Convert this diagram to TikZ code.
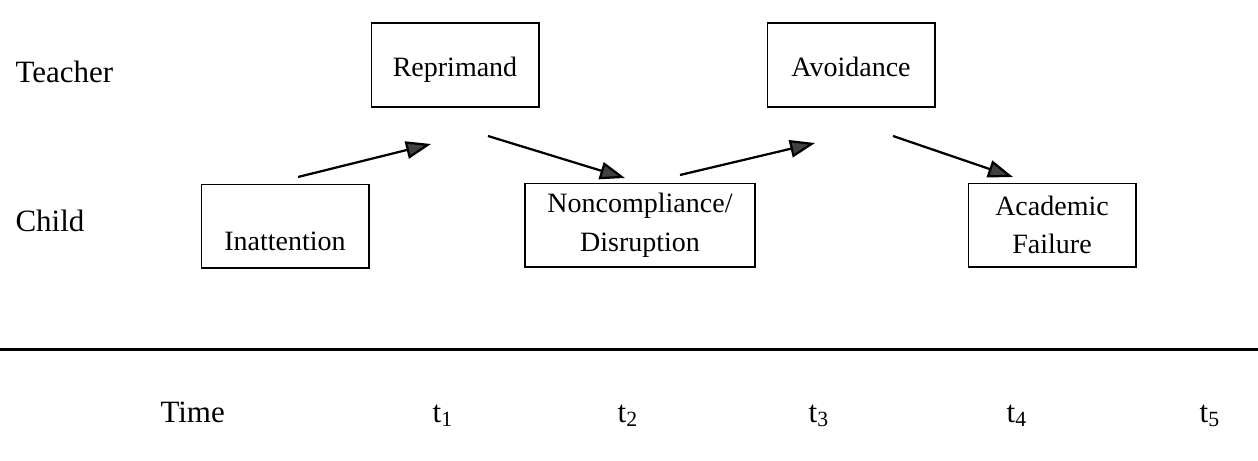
\documentclass[tikz,border=0pt]{standalone}
\usepackage{fontspec}
\setmainfont{Liberation Serif}
\usetikzlibrary{arrows.meta}

\begin{document}
\begin{tikzpicture}[x=0.4pt,y=-0.4pt]
    \tikzstyle{box}=[draw,line width=0.6pt,minimum width=67pt,minimum height=33.4pt,inner sep=0pt,align=center,font=\fontsize{11.2}{15.5}\selectfont]
    \tikzstyle{wide box}=[box,minimum width=92pt]
    \tikzstyle{label}=[inner sep=0pt,font=\fontsize{12.4}{14.9}\selectfont]
    \tikzstyle{link}=[line width=0.9pt,-{Triangle[length=10pt,width=7pt,fill=black!75]}]
    \useasboundingbox (0,0) rectangle (1258,460);

    % row labels
    \node at (15,82) (teacher) [label, anchor=base west] {Teacher};
    \node at (15,231) (child) [label, anchor=base west] {Child};

    % teacher row
    \node at (455,65) (reprimand) [box] {\raisebox{-4.6pt}[0pt][0pt]{Reprimand}};
    \node at (851,65) (avoidance) [box] {\raisebox{-4.6pt}[0pt][0pt]{Avoidance}};

    % child row
    \node at (285,226) (inattention) [box] {\raisebox{-9.6pt}[0pt][0pt]{Inattention}};
    \node at (640,225) (noncompliance) [wide box] {Noncompliance/\\Disruption};
    \node at (1052,225) (failure) [box] {Academic\\Failure};

    % arrow ends
    \coordinate (a1 start) at (298,177);
    \coordinate (a1 end) at (431,144);
    \coordinate (a2 start) at (488,136);
    \coordinate (a2 end) at (625,178);
    \coordinate (a3 start) at (680,175);
    \coordinate (a3 end) at (815,143);
    \coordinate (a4 start) at (893,136);
    \coordinate (a4 end) at (1013,177);

    \draw[link] (a1 start) -- (a1 end);
    \draw[link] (a2 start) -- (a2 end);
    \draw[link] (a3 start) -- (a3 end);
    \draw[link] (a4 start) -- (a4 end);

    % time axis
    \coordinate (rule west) at (0,349);
    \coordinate (rule east) at (1258,349);
    \draw[line width=1.2pt] (rule west) -- (rule east);

    \node at (160,422) (time) [label, anchor=base west] {Time};
    \node at (443,422) (t1) [label, anchor=base] {t\textsubscript{1}};
    \node at (628,422) (t2) [label, anchor=base] {t\textsubscript{2}};
    \node at (819,422) (t3) [label, anchor=base] {t\textsubscript{3}};
    \node at (1017,422) (t4) [label, anchor=base] {t\textsubscript{4}};
    \node at (1210,422) (t5) [label, anchor=base] {t\textsubscript{5}};

\end{tikzpicture}
\end{document}
